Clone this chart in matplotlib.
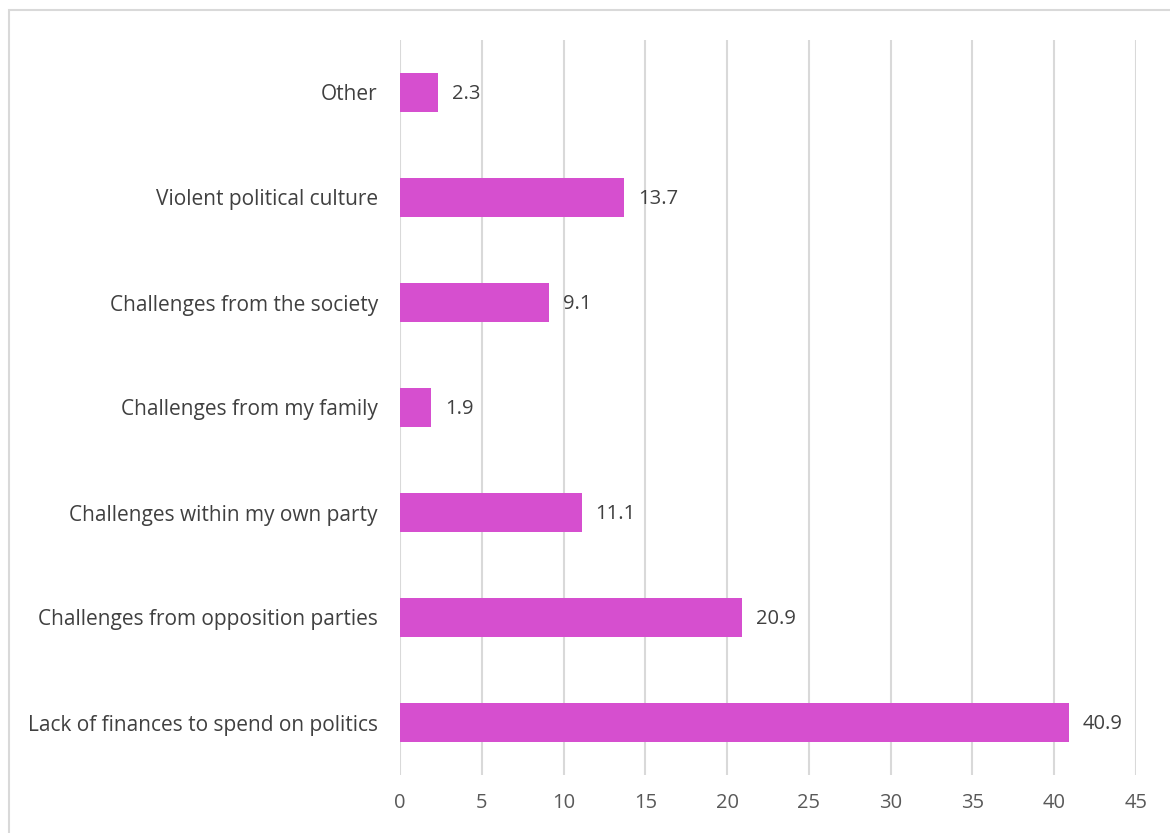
import matplotlib
matplotlib.use("Agg")
import matplotlib.pyplot as plt
from matplotlib.patches import Rectangle

categories = [
    "Lack of finances to spend on politics",
    "Challenges from opposition parties",
    "Challenges within my own party",
    "Challenges from my family",
    "Challenges from the society",
    "Violent political culture",
    "Other",
]
values = [40.9, 20.9, 11.1, 1.9, 9.1, 13.7, 2.3]
xticks = [0, 5, 10, 15, 20, 25, 30, 35, 40, 45]

plt.rcParams['font.family'] = ['Open Sans', 'DejaVu Sans']

fig = plt.figure(figsize=(11.7, 8.33), dpi=100)
ax = fig.add_axes([400/1170, (833-775)/833, (1136-400)/1170, (775-40)/833])

ypos = list(range(len(categories)))
ax.barh(ypos, values, height=0.38, color="#D64FCF", zorder=3)
for y, v in zip(ypos, values):
    ax.annotate(f"{v}", xy=(v, y), xytext=(10, -1), textcoords="offset points",
                va="center", ha="left", fontsize=14.5, color="#404040")

ax.set_xlim(0, 45)
ax.set_ylim(-0.5, len(categories) - 0.5)
ax.set_xticks(xticks)
ax.set_xticklabels([str(t) for t in xticks], fontsize=14.5, color="#595959")
ax.set_yticks(ypos)
ax.set_yticklabels(categories, fontsize=15, color="#404040")
ax.tick_params(axis="both", length=0)
ax.tick_params(axis="y", pad=16)
ax.tick_params(axis="x", pad=13)
ax.grid(axis="x", color="#D9D9D9", linewidth=1.5, zorder=0)
ax.grid(axis="y", visible=False)
for s in ax.spines.values():
    s.set_visible(False)

fig.patches.append(Rectangle((9/1170, -0.05), 1.2, (833-10)/833 + 0.05,
                             transform=fig.transFigure, fill=False,
                             edgecolor="#D9D9D9", linewidth=1.5))

fig.savefig("out.png", dpi=100)
